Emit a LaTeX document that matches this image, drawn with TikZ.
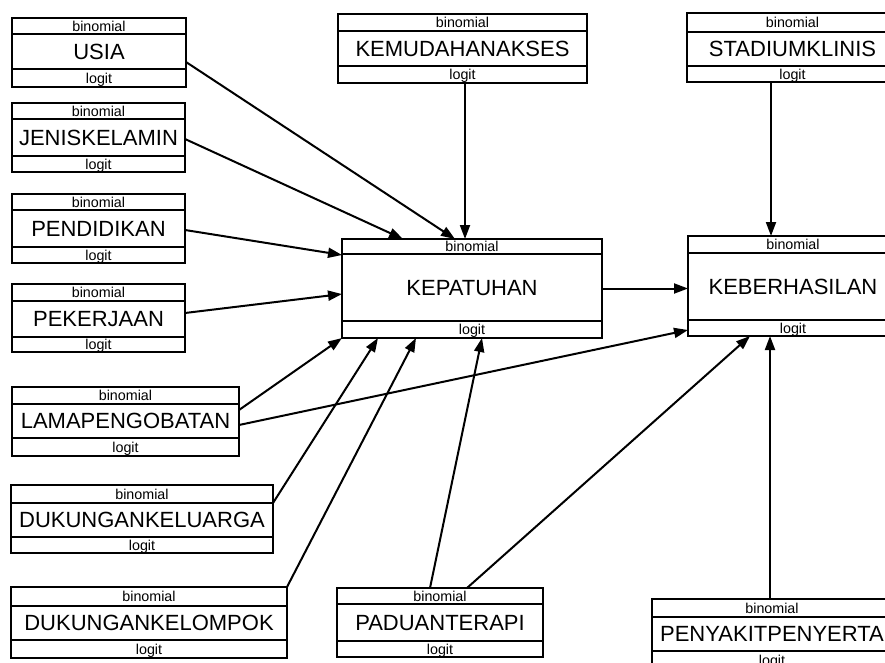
\documentclass[tikz,border=0pt]{standalone}
\usepackage{fontspec}
\setmainfont{Liberation Sans}
\usetikzlibrary{arrows.meta,calc}

\tikzset{
  blockframe/.style={draw, line width=2.9pt, inner sep=0pt, outer sep=0pt, anchor=north west},
  blockline/.style={line width=2.9pt},
  smalltext/.style={font=\fontsize{14.3}{14.3}\selectfont, inner sep=0pt, text height=10.3pt, text depth=0pt},
  bigtext/.style={font=\fontsize{22}{22}\selectfont, inner sep=0pt, text height=15.8pt, text depth=0pt},
  conn/.style={line width=2pt, -{Triangle[length=14pt,width=10pt]}},
}

% a variable block: name, left, top, right, first split, second split, bottom, label
\newcommand\varblock[8]{%
  \node[blockframe, minimum width={(#4-#2)*1pt}, minimum height={(#7-#3)*1pt}] (#1) at (#2,#3) {};
  \draw[blockline] (#2,#5) -- (#4,#5);
  \draw[blockline] (#2,#6) -- (#4,#6);
  \node[smalltext] (#1-dist) at ({(#2+#4)/2},{(#3+#5)/2}) {binomial};
  \node[bigtext] (#1-name) at ({(#2+#4)/2},{(#5+#6)/2}) {#8};
  \node[smalltext] (#1-link) at ({(#2+#4)/2},{(#6+#7)/2}) {logit};
}

\begin{document}
\begin{tikzpicture}[x=1pt,y=-1pt]
  \useasboundingbox (0,0) rectangle (885,663);
  \clip (0,0) rectangle (885,663);

  % left column
  \varblock{usia}{12}{18}{186}{34}{69}{87}{USIA}
  \varblock{jenis}{12}{103}{185}{119}{156}{172}{JENISKELAMIN}
  \varblock{pend}{12}{194}{185}{210}{247}{263}{PENDIDIKAN}
  \varblock{peker}{12}{284}{185}{301}{337}{352}{PEKERJAAN}
  \varblock{lama}{12}{387}{239}{404}{438}{456}{LAMAPENGOBATAN}
  \varblock{kelu}{11}{485}{273}{503}{537}{553}{DUKUNGANKELUARGA}
  \varblock{kelo}{11}{587}{287}{606}{640}{658}{DUKUNGANKELOMPOK}

  % top row
  \varblock{kem}{338}{14}{587}{31}{66}{83}{KEMUDAHANAKSES}
  \varblock{stad}{687}{13}{898}{32}{66}{82}{STADIUMKLINIS}

  % outcome blocks
  \varblock{kep}{342}{239}{602}{254}{321}{338}{KEPATUHAN}
  \varblock{keb}{688}{236}{898}{253}{320}{336}{KEBERHASILAN}

  % bottom row
  \varblock{padu}{337}{588}{543}{604}{641}{657}{PADUANTERAPI}
  \varblock{peny}{652}{599}{892}{617}{651}{669}{PENYAKITPENYERTA}

  % paths into KEPATUHAN
  \draw[conn] ([yshift=-9.5pt]usia.east) -- ([xshift=-17pt]kep.north);
  \draw[conn] ([yshift=-1.5pt]jenis.east) -- ([xshift=-69pt]kep.north);
  \draw[conn] ([xshift=2.5pt]kem.south) -- ([xshift=-7pt]kep.north);
  \draw[conn] ([yshift=-1.5pt]pend.east) -- ([yshift=33.5pt]kep.west);
  \draw[conn] ([yshift=5pt]peker.east) -- ([yshift=-5.5pt]kep.west);
  \draw[conn] ([yshift=11.5pt]lama.east) -- (kep.south west);
  \draw[conn] ([yshift=16pt]kelu.east) -- ([xshift=36pt]kep.south west);
  \draw[conn] (kelo.north east) -- ([xshift=74pt]kep.south west);
  \draw[conn] ([xshift=-10pt]padu.north) -- ([xshift=10pt]kep.south);

  % paths into KEBERHASILAN
  \draw[conn] (kep.east) -- (kep.east -| keb.west);
  \draw[conn] ([yshift=-3.5pt]lama.east) -- ([yshift=6pt]keb.south west);
  \draw[conn] ([xshift=27pt]padu.north) -- ([xshift=62pt]keb.south west);
  \draw[conn] ([xshift=-2pt]peny.north) -- ([xshift=82pt]keb.south west);
  \draw[conn] ([xshift=-21.5pt]stad.south) -- ([xshift=-22pt]keb.north);
\end{tikzpicture}
\end{document}
